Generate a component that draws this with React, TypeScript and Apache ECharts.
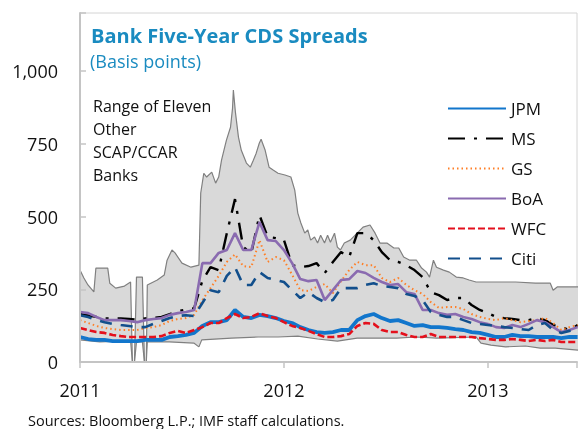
import React, { useEffect, useRef } from 'react';
import * as echarts from 'echarts';

const bankYears = [
  2011.00, 2011.04, 2011.08, 2011.12, 2011.16, 2011.20, 2011.24, 2011.28, 2011.32, 2011.36,
  2011.40, 2011.44, 2011.48, 2011.52, 2011.56, 2011.60, 2011.64, 2011.68, 2011.72, 2011.76,
  2011.80, 2011.84, 2011.88, 2011.92, 2011.96, 2012.00, 2012.04, 2012.08, 2012.12, 2012.16,
  2012.20, 2012.24, 2012.28, 2012.32, 2012.36, 2012.40, 2012.44, 2012.48, 2012.52, 2012.56,
  2012.60, 2012.64, 2012.68, 2012.72, 2012.76, 2012.80, 2012.84, 2012.88, 2012.92, 2012.96,
  2013.00, 2013.04, 2013.08, 2013.12, 2013.16, 2013.20, 2013.24, 2013.28, 2013.32, 2013.36,
  2013.40, 2013.44,
];

const jpm = [
  86, 79, 76, 76, 72, 72, 72, 72, 76, 76,
  76, 86, 89, 93, 100, 124, 137, 137, 144, 179,
  155, 151, 162, 158, 151, 141, 134, 120, 110, 103,
  100, 103, 110, 110, 144, 158, 165, 151, 141, 144,
  134, 124, 127, 120, 120, 117, 113, 110, 103, 100,
  93, 86, 86, 93, 89, 89, 86, 86, 86, 82,
  86, 86,
];
const ms = [
  165, 160, 155, 150, 150, 150, 148, 145, 150, 152,
  155, 165, 175, 180, 185, 280, 326, 316, 443, 560,
  395, 375, 505, 430, 426, 419, 333, 326, 330, 340,
  306, 344, 378, 361, 443, 443, 419, 378, 350, 344,
  333, 316, 292, 240, 230, 213, 220, 220, 196, 179,
  168, 155, 151, 148, 144, 144, 151, 144, 127, 120,
  110, 127,
];
const gs = [
  144, 134, 124, 117, 113, 110, 110, 110, 117, 120,
  127, 141, 148, 151, 162, 213, 254, 296, 344, 370,
  330, 326, 419, 344, 361, 350, 300, 247, 244, 258,
  268, 237, 278, 316, 344, 333, 333, 289, 275, 289,
  265, 247, 234, 206, 186, 189, 189, 182, 165, 155,
  148, 144, 151, 144, 137, 141, 144, 151, 134, 110,
  120, 127,
];
const boa = [
  172, 168, 155, 144, 144, 144, 141, 137, 144, 148,
  151, 162, 168, 172, 179, 340, 340, 375, 385, 443,
  385, 385, 481, 419, 416, 385, 340, 285, 278, 282,
  213, 247, 282, 285, 313, 306, 289, 275, 265, 268,
  240, 234, 179, 179, 168, 162, 165, 155, 148, 137,
  131, 120, 117, 127, 120, 131, 144, 137, 120, 103,
  110, 120,
];
const wfc = [
  117, 110, 103, 100, 93, 89, 86, 86, 86, 86,
  89, 100, 107, 100, 110, 120, 134, 134, 151, 165,
  151, 155, 168, 158, 151, 137, 124, 117, 107, 96,
  86, 86, 89, 96, 124, 134, 131, 110, 103, 103,
  93, 86, 86, 96, 86, 86, 86, 86, 86, 82,
  79, 76, 76, 79, 76, 72, 76, 72, 76, 69,
  69, 69,
];
const citi = [
  161, 155, 144, 137, 131, 127, 124, 120, 120, 131,
  141, 151, 158, 161, 158, 203, 247, 240, 296, 326,
  265, 265, 309, 289, 282, 275, 247, 220, 240, 220,
  206, 213, 254, 254, 254, 265, 271, 261, 258, 254,
  234, 227, 213, 172, 162, 155, 155, 144, 134, 131,
  127, 124, 120, 117, 113, 110, 127, 134, 110, 100,
  107, 110,
];

const bandUpperYears = [
  2011.000, 2011.019, 2011.039, 2011.068, 2011.078, 2011.136, 2011.146, 2011.175, 2011.218, 2011.248,
  2011.257, 2011.267, 2011.277, 2011.306, 2011.316, 2011.325, 2011.330, 2011.379, 2011.413, 2011.427,
  2011.451, 2011.466, 2011.500, 2011.544, 2011.583, 2011.592, 2011.607, 2011.621, 2011.646, 2011.665,
  2011.680, 2011.694, 2011.718, 2011.738, 2011.748, 2011.752, 2011.762, 2011.777, 2011.791, 2011.816,
  2011.835, 2011.850, 2011.864, 2011.879, 2011.888, 2011.908, 2011.927, 2011.947, 2011.971, 2012.005,
  2012.034, 2012.053, 2012.068, 2012.083, 2012.102, 2012.117, 2012.131, 2012.150, 2012.165, 2012.180,
  2012.199, 2012.214, 2012.228, 2012.248, 2012.262, 2012.277, 2012.296, 2012.325, 2012.359, 2012.388,
  2012.422, 2012.447, 2012.471, 2012.505, 2012.539, 2012.563, 2012.587, 2012.617, 2012.650, 2012.675,
  2012.699, 2012.714, 2012.733, 2012.748, 2012.782, 2012.811, 2012.845, 2012.879, 2012.908, 2012.942,
  2013.039, 2013.136, 2013.233, 2013.306, 2013.320, 2013.340, 2013.442,
];
const bandUpper = [
  316, 289, 265, 241, 323, 323, 271, 254, 261, 275,
  0, 0, 292, 292, 0, 0, 265, 282, 299, 350,
  385, 375, 340, 326, 333, 581, 649, 636, 653, 615,
  636, 694, 763, 807, 873, 935, 859, 773, 728, 684,
  670, 694, 718, 752, 766, 728, 670, 660, 649, 643,
  636, 591, 512, 478, 443, 454, 419, 430, 409, 436,
  409, 436, 412, 443, 395, 385, 409, 419, 443, 464,
  471, 443, 409, 409, 392, 392, 361, 350, 350, 323,
  309, 292, 350, 326, 316, 309, 292, 289, 282, 275,
  275, 275, 271, 271, 247, 258, 258,
];

const bandLowerYears = [
  2011.000, 2011.097, 2011.194, 2011.248, 2011.257, 2011.267, 2011.277, 2011.306, 2011.316, 2011.325,
  2011.330, 2011.437, 2011.558, 2011.583, 2011.597, 2011.743, 2011.874, 2011.971, 2012.068, 2012.165,
  2012.262, 2012.359, 2012.553, 2012.650, 2012.748, 2012.942, 2012.966, 2013.015, 2013.087, 2013.184,
  2013.257, 2013.330, 2013.442,
];
const bandLower = [
  76, 69, 72, 72, 0, 0, 69, 69, 0, 0,
  69, 69, 65, 52, 76, 82, 86, 86, 89, 79,
  72, 82, 82, 86, 82, 86, 65, 58, 52, 55,
  48, 48, 41,
];

const legendNames = ['JPM', 'MS', 'GS', 'BoA', 'WFC', 'Citi'];
const yTicks = [0, 250, 500, 750, 1000];

const FONT = "'Open Sans', 'Noto Sans', sans-serif";
const TITLE_BLUE = '#1a8bc0';

const pairs = (xs: number[], ys: number[]) => xs.map((x, i) => [x, ys[i]]);

export default function App() {
  const ref = useRef<HTMLDivElement>(null);
  useEffect(() => {
    const chart = echarts.init(ref.current!, null, { renderer: 'svg' });
    const bank = (name: string, data: number[], color: string, width: number, type: any) => ({
      name,
      type: 'line',
      data: pairs(bankYears, data),
      showSymbol: false,
      symbol: 'none',
      lineStyle: { color, width, type },
      itemStyle: { color },
      silent: true,
    });
    chart.setOption({
      animation: false,
      textStyle: { fontFamily: FONT },
      title: [
        {
          text: 'Bank Five-Year CDS Spreads',
          left: 91,
          top: 25,
          padding: 0,
          textStyle: { fontFamily: FONT, fontSize: 20, fontWeight: 'bold', color: TITLE_BLUE },
        },
        {
          text: '(Basis points)',
          left: 90,
          top: 52,
          padding: 0,
          textStyle: { fontFamily: FONT, fontSize: 18, fontWeight: 'normal', color: TITLE_BLUE },
        },
        {
          text: 'Sources: Bloomberg L.P.; IMF staff calculations.',
          left: 28,
          top: 413,
          padding: 0,
          textStyle: { fontFamily: FONT, fontSize: 14.5, fontWeight: 'normal', color: '#111' },
        },
      ],
      graphic: [
        {
          type: 'text',
          left: 93,
          top: 94,
          style: {
            text: 'Range of Eleven\nOther\nSCAP/CCAR\nBanks',
            font: `16px ${FONT}`,
            lineHeight: 23,
            fill: '#111',
          },
        },
      ],
      legend: {
        data: legendNames,
        orient: 'vertical',
        left: 447,
        top: 100,
        padding: 0,
        itemWidth: 58,
        itemHeight: 14,
        itemGap: 13,
        itemStyle: { opacity: 0 },
        textStyle: { fontFamily: FONT, fontSize: 17, color: '#111' },
      },
      grid: {
        left: 80,
        top: 13,
        right: -2,
        bottom: 67,
        show: true,
        borderColor: '#d4d4d4',
        borderWidth: 1,
        containLabel: false,
      },
      xAxis: {
        type: 'value',
        min: 2011,
        max: 2013.437,
        interval: 1,
        z: 5,
        axisLine: { show: true, lineStyle: { color: '#c4c4c4', width: 2 } },
        axisTick: { show: true, inside: false, length: 6, lineStyle: { color: '#c4c4c4', width: 1.5 } },
        splitLine: { show: false },
        axisLabel: {
          margin: 19,
          fontSize: 18,
          fontFamily: FONT,
          color: '#111',
          formatter: (v: number) => (Number.isInteger(v) ? String(v) : ''),
        },
      },
      yAxis: {
        type: 'value',
        min: 0,
        max: 1200,
        interval: 250,
        z: 5,
        axisLine: { show: true, lineStyle: { color: '#c4c4c4', width: 2 } },
        axisTick: { show: true, inside: true, length: 6, lineStyle: { color: '#c4c4c4', width: 1.5 } },
        splitLine: { show: false },
        axisLabel: {
          margin: 22,
          fontSize: 18,
          fontFamily: FONT,
          color: '#111',
          formatter: (v: number) => (yTicks.includes(v) ? v.toLocaleString('en-US') : ''),
        },
      },
      series: [
        {
          name: 'upper',
          type: 'line',
          data: pairs(bandUpperYears, bandUpper),
          showSymbol: false,
          symbol: 'none',
          lineStyle: { color: '#808080', width: 1.2 },
          areaStyle: { color: '#d9d9d9', opacity: 1 },
          silent: true,
        },
        {
          name: 'lower',
          type: 'line',
          data: pairs(bandLowerYears, bandLower),
          showSymbol: false,
          symbol: 'none',
          lineStyle: { color: '#808080', width: 1.2 },
          areaStyle: { color: '#ffffff', opacity: 1 },
          silent: true,
        },
        bank('JPM', jpm, '#1276cc', 3.8, 'solid'),
        bank('MS', ms, '#000000', 2.4, [17, 9, 3, 9]),
        bank('GS', gs, '#ff7f27', 2, [1.5, 3]),
        bank('BoA', boa, '#8a6bb0', 2.6, 'solid'),
        bank('WFC', wfc, '#e4101c', 2.6, [7, 3]),
        bank('Citi', citi, '#124f8c', 2.6, [12, 9]),
      ],
    });
    return () => chart.dispose();
  }, []);
  return <div ref={ref} style={{ position: 'fixed', left: 0, top: 0, width: 580, height: 429 }} />;
}
